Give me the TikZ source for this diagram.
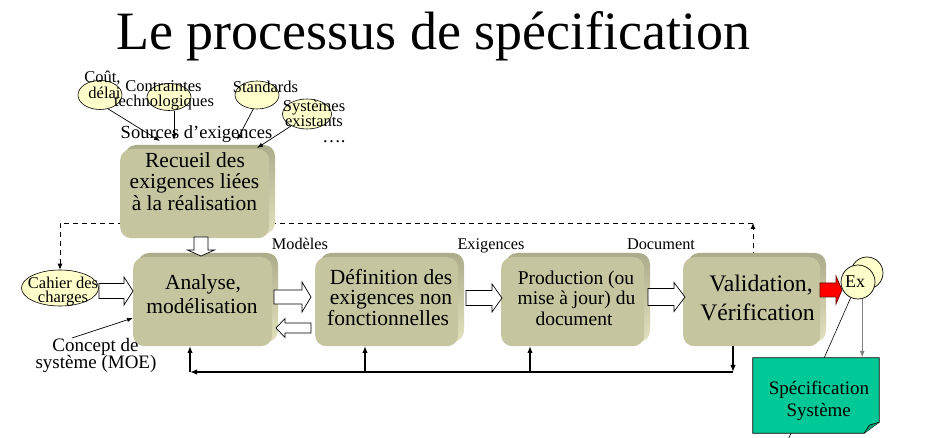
\documentclass[tikz,border=0pt]{standalone}
\usepackage{fontspec}
\setmainfont{Liberation Serif}
\usetikzlibrary{arrows.meta,shapes.geometric}
\pgfdeclarelayer{background}
\pgfsetlayers{background,main}
\definecolor{olive}{RGB}{197,197,160}
\definecolor{oliveside}{RGB}{226,226,190}
\definecolor{oliveedge}{RGB}{172,172,138}
\definecolor{paleyellow}{RGB}{255,255,204}
\definecolor{specgreen}{RGB}{0,200,150}
\definecolor{specfold}{RGB}{0,150,112}
\newcommand\fsz[2]{\fontsize{#1}{#2}\selectfont}
\newcommand\obox[5]{%
  \shade[top color=oliveedge, bottom color=oliveside, rounded corners=11pt] (#2+5,#3) rectangle (#4,#5-4);
  \node[front, minimum width={(#4-#2-6)*1pt}, minimum height={(#5-#3-4)*1pt}, anchor=north west] (#1) at (#2,#3+4) {};}
\newcommand\harrowR[7][hollow]{%
  \path[#1] (#2,#4-#5) -- (#3-#7,#4-#5) -- (#3-#7,#4-#6) -- (#3,#4) -- (#3-#7,#4+#6) -- (#3-#7,#4+#5) -- (#2,#4+#5) -- cycle;}
\newcommand\harrowL[6]{%
  \path[hollow] (#2,#3-#4) -- (#1+#6,#3-#4) -- (#1+#6,#3-#5) -- (#1,#3) -- (#1+#6,#3+#5) -- (#1+#6,#3+#4) -- (#2,#3+#4) -- cycle;}
\newcommand\harrowD[6]{%
  \path[hollow] (#3-#4,#1) -- (#3-#4,#2-#6) -- (#3-#5,#2-#6) -- (#3,#2) -- (#3+#5,#2-#6) -- (#3+#4,#2-#6) -- (#3+#4,#1) -- cycle;}
\begin{document}
\begin{tikzpicture}[x=1pt,y=-1pt,
  front/.style={fill=olive, rounded corners=11pt, draw=none, inner sep=0pt},
  txt/.style={inner sep=0pt, anchor=base},
  ell/.style={ellipse, draw, fill=paleyellow, line width=0.6pt, inner sep=0pt},
  thinarrow/.style={-{Latex[length=6pt,width=4.5pt]}, line width=0.7pt},
  fb/.style={line width=1.6pt},
  fbarrow/.style={-{Latex[length=7pt,width=5.5pt]}, line width=1.6pt},
  hollow/.style={draw, fill=white, line width=0.7pt, line join=miter},
  redarr/.style={draw=black!60!red, fill=red, line width=0.7pt, line join=miter},
  dsh/.style={dash pattern=on 5pt off 4pt, line width=0.9pt},
]
\useasboundingbox (0,0) rectangle (943,438);

% title
\node[txt, font=\fsz{54}{60}] (title) at (433.5,50) {Le processus de spécification};

% boxes
\obox{recueil}{120}{145}{275}{238}
\obox{analyse}{133}{253}{278}{346}
\obox{def}{315}{253}{464}{346}
\obox{prod}{501}{253}{650}{346}
\obox{val}{683}{253}{826}{346}

% box texts
\node[txt, font=\fsz{21.5}{22}] (rec1) at (195,168) {Recueil des};
\node[txt, font=\fsz{21.5}{22}] (rec2) at (194.5,189) {exigences liées};
\node[txt, font=\fsz{21.5}{22}] (rec3) at (194.5,211) {à la réalisation};
\node[txt, font=\fsz{21.5}{22}] (ana1) at (203,290) {Analyse,};
\node[txt, font=\fsz{21.5}{22}] (ana2) at (202,314) {modélisation};
\node[txt, font=\fsz{21.5}{22}] (def1) at (391,284.5) {Définition des};
\node[txt, font=\fsz{21.5}{22}] (def2) at (391,305) {exigences non};
\node[txt, font=\fsz{21.5}{22}] (def3) at (388,325.5) {fonctionnelles};
\node[txt, font=\fsz{19.5}{20}] (pro1) at (576,284.5) {Production (ou};
\node[txt, font=\fsz{19.5}{20}] (pro2) at (576.5,305) {mise à jour) du};
\node[txt, font=\fsz{19.5}{20}] (pro3) at (574,325.5) {document};
\node[txt, font=\fsz{23.7}{24}] (val1) at (761,291.5) {Validation,};
\node[txt, font=\fsz{23.7}{24}] (val2) at (757.5,320.5) {Vérification};

% hollow block arrows
\harrowD{237}{256}{201}{7}{13.5}{6}
\harrowR{99}{133}{291}{7.5}{14}{9}
\harrowR{274}{311}{297}{7}{15}{9}
\harrowL{276}{311}{328}{5}{9.5}{9}
\harrowR{466}{502}{298}{7.5}{14}{10}
\harrowR{648}{685}{297}{8.5}{14.5}{11}
\harrowR[redarr]{820}{842}{290}{7}{14}{6}

% stage labels
\node[txt, font=\fsz{16.3}{17}] (lmod) at (300,250) {Modèles};
\node[txt, font=\fsz{16.3}{17}] (lexi) at (491,250) {Exigences};
\node[txt, font=\fsz{16.3}{17}] (ldoc) at (661,250) {Document};

% source ellipses
\node[ell, minimum width=44pt, minimum height=29pt] (cout) at (100,95) {};
\node[ell, minimum width=44pt, minimum height=27pt] (contr) at (169,97) {};
\node[ell, minimum width=44pt, minimum height=28pt] (stand) at (257,95) {};
\node[ell, minimum width=49pt, minimum height=30pt] (syst) at (307,114) {};
\node[txt, font=\fsz{16.5}{17}] (cout1) at (102.5,83) {Coût,};
\node[txt, font=\fsz{16.5}{17}] (cout2) at (104.5,99) {délai};
\node[txt, font=\fsz{16.5}{17}] (contr1) at (163.5,92) {Contraintes};
\node[txt, font=\fsz{16.5}{17}] (contr2) at (164,107) {technologiques};
\node[txt, font=\fsz{16.5}{17}] (stand1) at (265.5,93) {Standards};
\node[txt, font=\fsz{16.5}{17}] (syst1) at (314,112) {Systèmes};
\node[txt, font=\fsz{16.5}{17}] (syst2) at (314,127) {existants};
\node[txt, font=\fsz{18.5}{19}] (sources) at (196.5,139) {Sources d’exigences};
\node[txt, font=\fsz{18.5}{19}] (dots) at (334,143) {….};

\coordinate (sA) at (160,141);
\coordinate (sB) at (174,140);
\coordinate (sC) at (237,140);
\coordinate (sD) at (257,148);
\draw[thinarrow] (cout.-60) -- (sA);
\draw[thinarrow] (sB |- contr.south) -- (sB);
\draw[thinarrow] (stand.-105) -- (sC);
\draw[thinarrow] (syst.-143) -- (sD);

% cahier des charges
\node[ell, minimum width=77pt, minimum height=36pt] (cahier) at (60,288) {};
\node[txt, font=\fsz{16.5}{17}] (cah1) at (63,288.3) {Cahier des};
\node[txt, font=\fsz{16.5}{17}] (cah2) at (63,302.7) {charges};

% concept de systeme
\node[txt, font=\fsz{19}{19}] (conc1) at (95.5,351.7) {Concept de};
\node[txt, font=\fsz{19}{19}] (conc2) at (96,368.3) {système (MOE)};
\coordinate (concS) at (72,338);
\coordinate (concE) at (133,318);
\draw[thinarrow] (concS) -- (concE);

% dashed loop
\coordinate (dashY) at (0,223);
\coordinate (dTR) at (753,223);
\begin{pgfonlayer}{background}
\draw[dsh, -{Latex[length=6pt,width=5pt]}] (dTR |- val.north) -- (dTR);
\draw[dsh, -{Latex[length=6pt,width=5pt]}] (dTR) -- (cahier.north |- dashY) -- (cahier.north);
\end{pgfonlayer}

% feedback line
\coordinate (fbY) at (0,372);
\coordinate (vOut) at (733,346);
\coordinate (aIn) at (190,346);
\coordinate (dIn) at (365,346);
\coordinate (pIn) at (530,346);
\draw[fbarrow] (vOut) -- (vOut |- fbY);
\draw[fbarrow] (vOut |- fbY) -- (aIn |- fbY);
\draw[fbarrow] (aIn |- fbY) -- (aIn);
\draw[fbarrow] (dIn |- fbY) -- (dIn);
\draw[fbarrow] (pIn |- fbY) -- (pIn);

% Ex circles
\node[circle, draw, fill=paleyellow, minimum size=32pt, inner sep=0pt, line width=0.7pt] (exB) at (867,273) {};
\node[circle, draw, fill=paleyellow, minimum size=34pt, inner sep=0pt, line width=0.7pt] (exF) at (858,282) {};
\node[txt, font=\fsz{18}{18}] (exT) at (855,288) {Ex};

% specification systeme
\node[minimum width=126pt, minimum height=75pt, inner sep=0pt] (spec) at (816,395.5) {};
\coordinate (exLow) at (788,440);
\begin{pgfonlayer}{background}
\draw[line width=0.6pt] (exF.-115) -- (exLow);
\end{pgfonlayer}
\filldraw[fill=specgreen, draw=black, line width=0.7pt] (spec.north west) -- (spec.north east) -- ([yshift=11pt]spec.south east) -- ([xshift=-15pt]spec.south east) -- (spec.south west) -- cycle;
\filldraw[fill=specfold, draw=black, line width=0.6pt] ([xshift=-15pt]spec.south east) -- ([xshift=-10pt,yshift=8pt]spec.south east) -- ([yshift=11pt]spec.south east);
\node[txt, font=\fsz{19}{20}] (spec1) at (819,395) {Spécification};
\node[txt, font=\fsz{19}{20}] (spec2) at (818.7,416.7) {Système};
\draw[-{Latex[length=7pt,width=5pt]}, draw=gray, line width=1.2pt] (exF.-76) -- (exF.-76 |- spec.north);
\end{tikzpicture}
\end{document}
